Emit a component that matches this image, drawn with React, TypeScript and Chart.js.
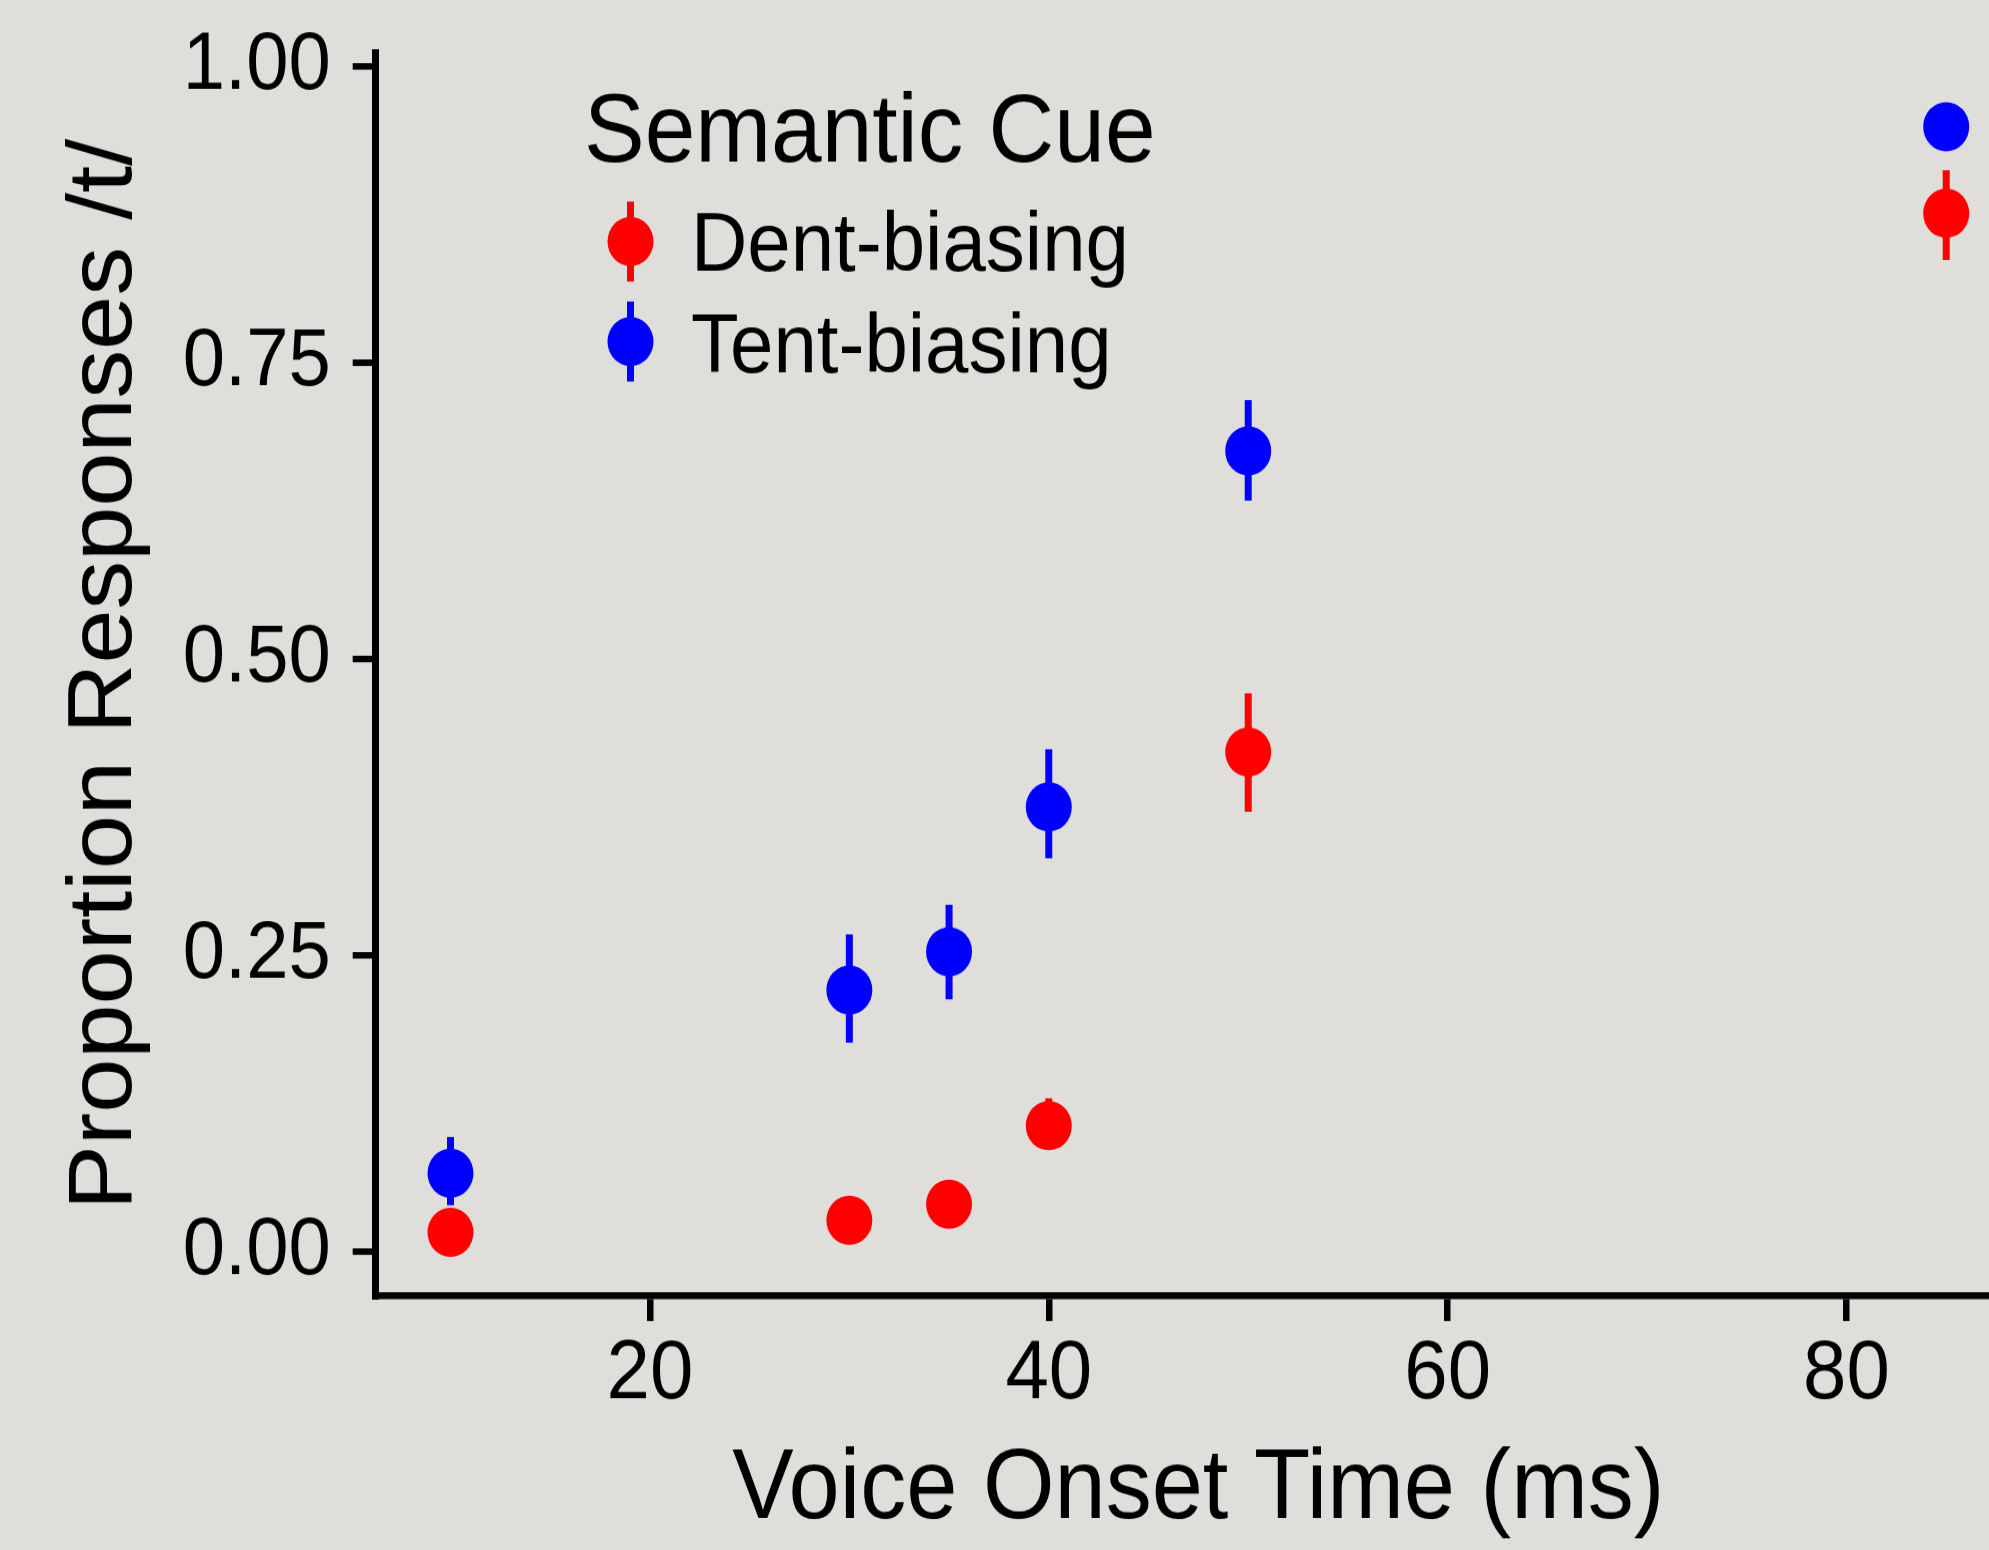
import React, { useEffect, useRef } from "react";
import { Chart, registerables } from "chart.js";

Chart.register(...registerables);

// ---- data ----
const vot = [10, 30, 35, 40, 50, 85];

const dentMean = [0.0164, 0.0265, 0.04, 0.1063, 0.4217, 0.8763];
const dentLow = [0.0103, 0.0205, 0.033, 0.089, 0.3713, 0.8369];
const dentHigh = [0.0225, 0.0325, 0.047, 0.1295, 0.4712, 0.9126];

const tentMean = [0.0662, 0.2208, 0.2532, 0.3753, 0.6757, 0.9494];
const tentLow = [0.0392, 0.1764, 0.213, 0.332, 0.6338, 0.9347];
const tentHigh = [0.0968, 0.2678, 0.2928, 0.424, 0.7187, 0.9641];

const yTicks = [0, 0.25, 0.5, 0.75, 1];
const xTicks = [20, 40, 60, 80];

const seriesLabels = ["Dent-biasing", "Tent-biasing"];
const legendTitle = "Semantic Cue";
const xTitle = "Voice Onset Time (ms)";
const yTitle = "Proportion Responses /t/";

// ---- styles / layout ----
const FONT = '"Liberation Sans", Arial, Helvetica, sans-serif';
const BG = "#dfdedb";
const RED = "#ff0000";
const BLUE = "#0000ff";
const POINT_R = 23;
const BAR_W = 7;

// The figure is drawn on a canvas that is shown slightly stretched vertically
const VIEW_W = 1989;
const VIEW_H = 1550;
const CANVAS_W = 2021;
const CANVAS_H = 1449;
const SY = VIEW_H / CANVAS_H; // vertical display stretch
const cy = (displayY: number) => displayY / SY; // display px -> canvas px

export default function App() {
  const ref = useRef<HTMLCanvasElement>(null);

  useEffect(() => {
    document.body.style.margin = "0";
    document.body.style.background = BG;
    const canvas = ref.current!;

    const lows = [...dentLow, ...tentLow];
    const highs = [...dentHigh, ...tentHigh];
    const yLo = Math.min(...lows);
    const yHi = Math.max(...highs);
    const yPad = (yHi - yLo) * 0.05;
    const xLo = Math.min(...vot);
    const xHi = Math.max(...vot);
    const xPad = (xHi - xLo) * 0.05;

    const series = [
      { label: seriesLabels[0], color: RED, mean: dentMean, low: dentLow, high: dentHigh },
      { label: seriesLabels[1], color: BLUE, mean: tentMean, low: tentLow, high: tentHigh },
    ];

    const bgPlugin = {
      id: "bgFill",
      beforeDraw(chart: any) {
        const c = chart.ctx;
        c.save();
        c.fillStyle = BG;
        c.fillRect(0, 0, chart.width, chart.height);
        c.restore();
      },
    };

    const errorBars = {
      id: "errorBars",
      beforeDatasetsDraw(chart: any) {
        const c = chart.ctx;
        const xs = chart.scales.x;
        const ys = chart.scales.y;
        c.save();
        c.lineWidth = BAR_W;
        c.lineCap = "butt";
        series.forEach((s) => {
          c.strokeStyle = s.color;
          vot.forEach((v, i) => {
            const px = xs.getPixelForValue(v);
            c.beginPath();
            c.moveTo(px, ys.getPixelForValue(s.low[i]));
            c.lineTo(px, ys.getPixelForValue(s.high[i]));
            c.stroke();
          });
        });
        c.restore();
      },
    };

    const legendPlugin = {
      id: "insetLegend",
      afterDraw(chart: any) {
        const c = chart.ctx;
        c.save();
        c.fillStyle = "#000";
        c.textBaseline = "alphabetic";
        c.textAlign = "left";
        c.font = `91px ${FONT}`;
        c.fillText(legendTitle, 584, cy(161));
        const rows = [
          { my: cy(241.5), base: cy(271) },
          { my: cy(341.5), base: cy(372) },
        ];
        series.forEach((s, i) => {
          const r = rows[i];
          c.strokeStyle = s.color;
          c.lineWidth = BAR_W;
          c.beginPath();
          c.moveTo(630.5, r.my - cy(40));
          c.lineTo(630.5, r.my + cy(40));
          c.stroke();
          c.fillStyle = s.color;
          c.beginPath();
          c.arc(630.5, r.my, POINT_R, 0, Math.PI * 2);
          c.fill();
          c.fillStyle = "#000";
          c.font = `78px ${FONT}`;
          c.fillText(s.label, 691, r.base);
        });
        c.restore();
      },
    };

    const zeroPad = (s: any) => {
      s.paddingTop = 0;
      s.paddingBottom = 0;
      s.paddingLeft = 0;
      s.paddingRight = 0;
    };

    const chart = new Chart(canvas, {
      type: "scatter",
      data: {
        datasets: series.map((s) => ({
          label: s.label,
          data: vot.map((x, i) => ({ x, y: s.mean[i] })),
          backgroundColor: s.color,
          borderColor: s.color,
          borderWidth: 0,
          pointRadius: POINT_R,
          pointHoverRadius: POINT_R,
          pointBorderWidth: 0,
        })),
      },
      options: {
        responsive: false,
        animation: false,
        devicePixelRatio: 1,
        events: [],
        layout: { autoPadding: false, padding: { top: cy(52.7), left: 0, right: 0, bottom: 0 } },
        plugins: {
          legend: { display: false },
          tooltip: { enabled: false },
        },
        scales: {
          x: {
            type: "linear",
            position: "bottom",
            min: xLo - xPad,
            max: xHi + xPad,
            border: { display: true, color: "#000", width: 6.5 },
            grid: {
              display: true,
              drawOnChartArea: false,
              drawTicks: true,
              color: "#000",
              tickColor: "#000",
              lineWidth: 6.5,
              tickWidth: 6.5,
              tickLength: cy(25),
            },
            afterBuildTicks(s: any) {
              s.ticks = xTicks.map((v) => ({ value: v }));
            },
            afterFit(s: any) {
              s.height = CANVAS_H - cy(1296);
              zeroPad(s);
            },
            ticks: {
              color: "#000",
              padding: 4,
              maxRotation: 0,
              font: { family: FONT, size: 78 },
              callback: (v: any) => String(v),
            },
            title: {
              display: true,
              text: xTitle,
              color: "#000",
              font: { family: FONT, size: 92 },
              padding: { top: 0, bottom: 0.5 },
            },
          },
          y: {
            type: "linear",
            position: "left",
            min: yLo - yPad,
            max: yHi + yPad,
            border: { display: true, color: "#000", width: 7 },
            grid: {
              display: true,
              drawOnChartArea: false,
              drawTicks: true,
              color: "#000",
              tickColor: "#000",
              lineWidth: 6.1,
              tickWidth: 6.1,
              tickLength: 23,
            },
            afterBuildTicks(s: any) {
              s.ticks = yTicks.map((v) => ({ value: v }));
            },
            afterFit(s: any) {
              s.width = 375.7;
              zeroPad(s);
            },
            ticks: {
              color: "#000",
              padding: 22,
              font: { family: FONT, size: 76 },
              callback: (v: any) => Number(v).toFixed(2),
            },
            title: {
              display: true,
              text: yTitle,
              color: "#000",
              font: { family: FONT, size: 91 },
              padding: { top: 51.8, bottom: 0 },
            },
          },
        },
      },
      plugins: [bgPlugin, errorBars, legendPlugin],
    } as any);

    return () => chart.destroy();
  }, []);

  return (
    <div style={{ width: VIEW_W, height: VIEW_H, overflow: "hidden", background: BG }}>
      <canvas
        ref={ref}
        width={CANVAS_W}
        height={CANVAS_H}
        style={{ display: "block", width: `${CANVAS_W}px`, height: `${VIEW_H}px` }}
      />
    </div>
  );
}
